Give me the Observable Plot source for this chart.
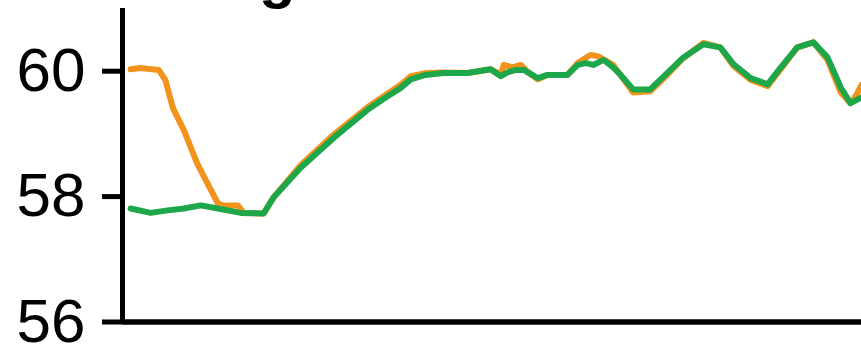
<!DOCTYPE html>
<html>
<head>
<meta charset="utf-8">
<script src="https://cdn.jsdelivr.net/npm/d3@7"></script>
<script src="https://cdn.jsdelivr.net/npm/@observablehq/plot@0.6"></script>
<style>
  html, body { margin: 0; padding: 0; background: #fff; overflow: hidden; }
  #wrap { position: relative; width: 861px; height: 347px; overflow: hidden; }
  #title { position: absolute; top: -53px; left: 46px; font: bold 60px "Liberation Sans", Arial, sans-serif; line-height: 60px; white-space: nowrap; color: #000; }
  #chart { position: absolute; top: 0; left: 0; }
</style>
</head>
<body>
<div id="wrap">
  <div id="title">Tracking</div>
  <div id="chart"></div>
</div>
<script>
const titleText = "Tracking";
const yTicks = [56, 58, 60];

const timeOrange = [1.1, 2.4, 4.9, 5.8, 6.8, 8.3, 10.1, 11.5, 12.9, 13.7, 15.6, 16.4, 19.1, 20.4, 24.1, 28.6, 33.1, 35.6, 37.6, 39.0, 41.0, 43.4, 46.7, 49.8, 51.2, 51.6, 52.8, 53.9, 54.9, 56.2, 57.5, 60.2, 61.6, 63.3, 64.3, 66.4, 69.1, 71.4, 73.7, 75.9, 78.6, 80.9, 82.7, 85.0, 87.3, 89.0, 91.3, 93.5, 95.4, 97.2, 98.5, 99.3, 100];
const valueOrange = [60.03, 60.05, 60.02, 59.86, 59.42, 59.06, 58.53, 58.21, 57.89, 57.86, 57.86, 57.74, 57.73, 57.98, 58.50, 58.99, 59.42, 59.62, 59.78, 59.92, 59.97, 59.98, 59.97, 60.03, 59.95, 60.10, 60.06, 60.10, 59.98, 59.87, 59.94, 59.94, 60.13, 60.26, 60.24, 60.10, 59.66, 59.68, 59.94, 60.21, 60.45, 60.38, 60.08, 59.86, 59.76, 60.02, 60.38, 60.46, 60.18, 59.66, 59.49, 59.62, 59.78];

const timeGreen = [1.1, 3.8, 6.1, 8.3, 10.6, 12.9, 16.0, 19.1, 20.4, 24.1, 28.6, 33.1, 35.6, 37.6, 39.0, 41.0, 43.4, 46.7, 49.8, 51.2, 52.1, 53.2, 54.3, 56.2, 57.5, 60.2, 61.6, 62.7, 63.7, 65.1, 66.4, 67.4, 69.1, 71.4, 73.7, 75.9, 78.6, 80.9, 82.7, 85.0, 87.3, 89.0, 91.3, 93.5, 95.4, 97.2, 98.5, 99.3, 100];
const valueGreen = [57.81, 57.74, 57.78, 57.81, 57.86, 57.81, 57.74, 57.73, 57.98, 58.46, 58.94, 59.38, 59.58, 59.73, 59.87, 59.94, 59.97, 59.97, 60.03, 59.92, 59.98, 60.02, 60.02, 59.89, 59.94, 59.94, 60.10, 60.13, 60.10, 60.18, 60.06, 59.94, 59.71, 59.71, 59.97, 60.22, 60.43, 60.38, 60.11, 59.89, 59.79, 60.05, 60.38, 60.46, 60.22, 59.74, 59.49, 59.54, 59.58];

const orange = timeOrange.map((t, i) => ({t, v: valueOrange[i]}));
const green = timeGreen.map((t, i) => ({t, v: valueGreen[i]}));

// place title so that its "g" sits where it does in the reference
(function () {
  const el = document.getElementById("title");
  el.textContent = titleText;
  const ctx = document.createElement("canvas").getContext("2d");
  ctx.font = 'bold 60px "Liberation Sans", Arial, sans-serif';
  const w = ctx.measureText(titleText.slice(0, titleText.indexOf("g"))).width;
  el.style.left = (259 - w) + "px";
})();

const chart = Plot.plot({
  width: 861,
  height: 347,
  marginLeft: 122,
  marginRight: 0,
  marginTop: 8,
  marginBottom: 25.5,
  x: {domain: [0, 100], axis: null},
  y: {domain: [56, 61], axis: null},
  style: {fontFamily: '"Liberation Sans", Arial, sans-serif', background: "transparent", color: "#000"},
  marks: [
    Plot.line(orange, {x: "t", y: "v", stroke: "#f2931c", strokeWidth: 6, strokeLinejoin: "round", strokeLinecap: "round"}),
    Plot.line(green, {x: "t", y: "v", stroke: "#1ea64a", strokeWidth: 6, strokeLinejoin: "round", strokeLinecap: "round"}),
    Plot.axisY({ticks: yTicks, label: null, tickSize: 20, tickPadding: 17, fontSize: 62, strokeWidth: 5, stroke: "#000", fill: "#000", tickFormat: d => String(d)}),
    Plot.ruleX([0], {y1: 56, y2: 61, stroke: "#000", strokeWidth: 5}),
    Plot.ruleY([56], {stroke: "#000", strokeWidth: 5.5})
  ]
});
document.getElementById("chart").appendChild(chart);
</script>
</body>
</html>
